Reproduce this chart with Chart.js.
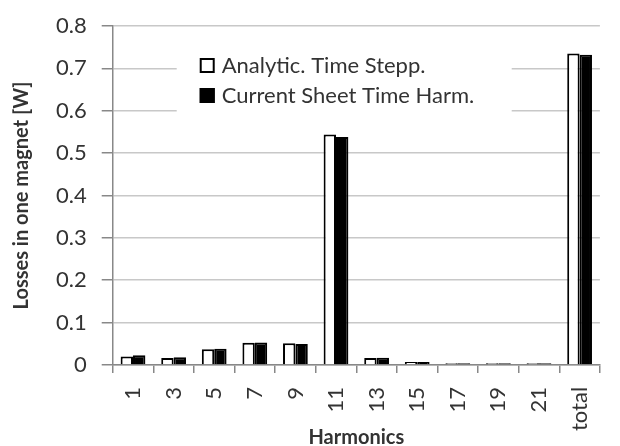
<!DOCTYPE html>
<html>
<head>
<meta charset="utf-8">
<script src="https://cdn.jsdelivr.net/npm/chart.js@4"></script>
<style>
  body { margin: 0; background: #fff; }
  #wrap { width: 620px; height: 446px; }
</style>
</head>
<body>
<div id="wrap"><canvas id="grafico" width="620" height="446"></canvas></div>
<script>
// harmonicas e perdas
let harmonicas = ["1", "3", "5", "7", "9", "11", "13", "15", "17", "19", "21", "total"];
let analitico = [0.020, 0.016, 0.037, 0.052, 0.051, 0.544, 0.016, 0.007, 0.004, 0.004, 0.004, 0.735];
let folhaCorrente = [0.023, 0.018, 0.038, 0.053, 0.049, 0.538, 0.017, 0.007, 0.004, 0.004, 0.004, 0.732];
let ticksY = [0, 0.1, 0.2, 0.3, 0.4, 0.5, 0.6, 0.7, 0.8];

const fonte = "Lato, 'Open Sans', sans-serif";
const corTexto = "#333";

// legenda desenhada dentro da area do grafico, com fundo branco
const legendaInterna = {
    id: "legendaInterna",
    afterDraw(chart) {
        const ctx = chart.ctx;
        const area = chart.chartArea;
        const x0 = area.left + 87;
        const y0 = area.top + 39;
        ctx.save();
        ctx.fillStyle = "#fff";
        ctx.fillRect(area.left + 64, area.top + 16, 335, 76);
        ctx.font = "22px " + fonte;
        ctx.textBaseline = "middle";
        chart.data.datasets.forEach((ds, i) => {
            let y = y0 + i * 30;
            ctx.fillStyle = ds.backgroundColor;
            ctx.fillRect(x0, y - 7, 15, 15);
            ctx.strokeStyle = "#000";
            ctx.lineWidth = 2;
            ctx.strokeRect(x0 + 1, y - 6, 13, 13);
            ctx.fillStyle = corTexto;
            ctx.fillText(ds.label, x0 + 22, y + 1);
        });
        ctx.restore();
    }
};

new Chart(document.getElementById("grafico"), {
    type: "bar",
    data: {
        labels: harmonicas,
        datasets: [{
            label: "Analytic. Time Stepp.",
            data: analitico,
            backgroundColor: "#ffffff",
            borderColor: "#000000",
            borderWidth: 2,
            categoryPercentage: 0.61,
            barPercentage: 1.0
        }, {
            label: "Current Sheet Time Harm.",
            data: folhaCorrente,
            backgroundColor: "#000000",
            borderColor: "#000000",
            borderWidth: 2,
            categoryPercentage: 0.61,
            barPercentage: 1.0
        }]
    },
    options: {
        responsive: false,
        animation: false,
        layout: { padding: { top: 4, right: 0, left: 10, bottom: 0 } },
        plugins: {
            legend: { display: false },
            tooltip: { enabled: false }
        },
        scales: {
            x: {
                offset: true,
                grid: {
                    display: true,
                    drawOnChartArea: false,
                    offset: true,
                    color: "#888",
                    lineWidth: 1.5,
                    tickLength: 8
                },
                border: { color: "#888", width: 1.5 },
                ticks: {
                    color: corTexto,
                    font: { family: fonte, size: 22 },
                    minRotation: 90,
                    maxRotation: 90,
                    padding: 14
                },
                title: {
                    display: true,
                    text: "Harmonics",
                    color: corTexto,
                    font: { family: fonte, size: 20, weight: "bold" },
                    padding: { top: -19, bottom: -4 }
                }
            },
            y: {
                min: 0,
                max: 0.8,
                afterBuildTicks: axis => { axis.ticks = ticksY.map(v => ({ value: v })); },
                grid: {
                    color: "#c8c8c8",
                    lineWidth: 1.5,
                    tickLength: 11,
                    tickColor: "#888"
                },
                border: { color: "#888", width: 1.5 },
                ticks: {
                    color: corTexto,
                    font: { family: fonte, size: 22, lineHeight: 1 },
                    padding: 15,
                    callback: v => String(Math.round(v * 10) / 10)
                },
                title: {
                    display: true,
                    text: "Losses in one magnet [W]",
                    color: corTexto,
                    font: { family: fonte, size: 20, weight: "bold" },
                    padding: { top: 0, bottom: 7 }
                }
            }
        }
    },
    plugins: [legendaInterna]
});
</script>
</body>
</html>
